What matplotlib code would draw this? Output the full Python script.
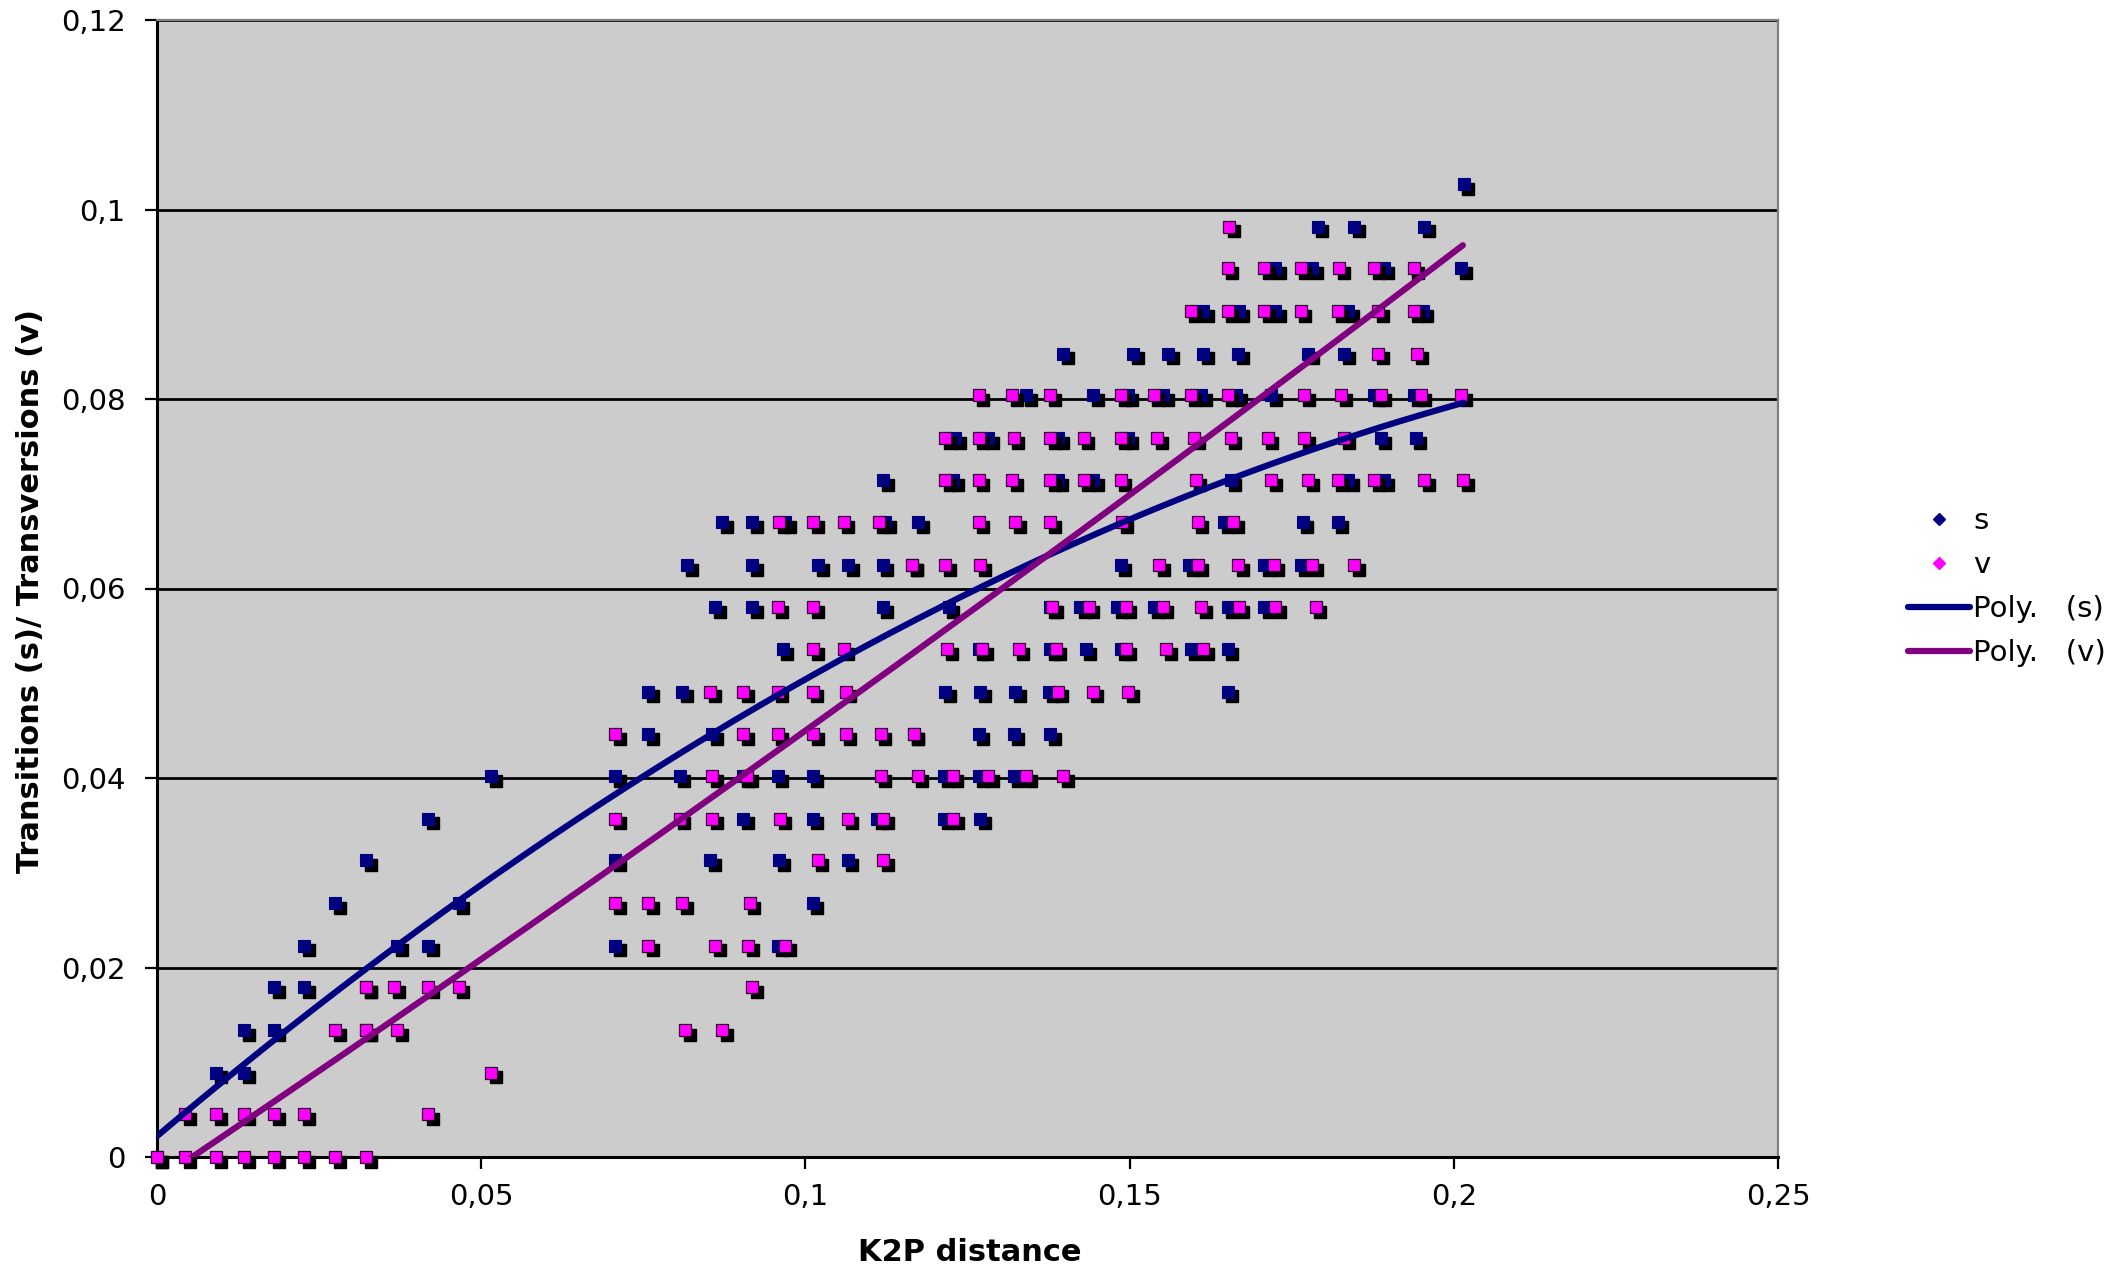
import matplotlib
matplotlib.use("Agg")
import matplotlib.pyplot as plt
import matplotlib.transforms as mtransforms
from matplotlib.lines import Line2D
import numpy as np

# Transitions (s): x = K2P distance, y = proportion
s_x = [0.0,
       0.0091, 0.0134,
       0.0134, 0.0181, 0.0323,
       0.0181, 0.0227, 0.0323,
       0.0227, 0.0370, 0.0418, 0.0707, 0.0957,
       0.0275, 0.0465, 0.1011,
       0.0323, 0.0707, 0.0853, 0.0960, 0.1065,
       0.0418, 0.0904, 0.1011, 0.1111, 0.1213, 0.1270,
       0.0515, 0.0707, 0.0806, 0.0904, 0.0957, 0.1011, 0.1213, 0.1267, 0.1321,
       0.0758, 0.0856, 0.1167, 0.1267, 0.1321, 0.1378,
       0.0758, 0.0810, 0.1216, 0.1270, 0.1324, 0.1375, 0.1651,
       0.0965, 0.1267, 0.1378, 0.1432, 0.1486, 0.1594, 0.1651,
       0.0861, 0.0918, 0.1119, 0.1221, 0.1378, 0.1424, 0.1481, 0.1537, 0.1651, 0.1707,
       0.0818, 0.0918, 0.1020, 0.1066, 0.1119, 0.1165, 0.1486, 0.1591, 0.1707, 0.1764,
       0.0872, 0.0918, 0.0969, 0.1123, 0.1174, 0.1645, 0.1767, 0.1821,
       0.1120, 0.1228, 0.1389, 0.1444, 0.1656, 0.1837, 0.1892,
       0.1231, 0.1282, 0.1390, 0.1497, 0.1887, 0.1941,
       0.1340, 0.1444, 0.1497, 0.1552, 0.1610, 0.1664, 0.1718, 0.1877, 0.1938,
       0.1398, 0.1505, 0.1559, 0.1613, 0.1667, 0.1775, 0.1831,
       0.1613, 0.1668, 0.1725, 0.1837, 0.1952,
       0.1725, 0.1782, 0.1892, 0.2011,
       0.1790, 0.1846, 0.1954,
       0.2015]
s_y = ([0.0]
       + [0.0089] * 2
       + [0.0134] * 3
       + [0.0179] * 3
       + [0.0223] * 5
       + [0.0268] * 3
       + [0.0313] * 5
       + [0.0357] * 6
       + [0.0402] * 9
       + [0.0446] * 6
       + [0.0491] * 7
       + [0.0536] * 7
       + [0.0580] * 10
       + [0.0625] * 10
       + [0.0670] * 8
       + [0.0714] * 7
       + [0.0759] * 6
       + [0.0804] * 9
       + [0.0848] * 7
       + [0.0893] * 5
       + [0.0938] * 4
       + [0.0982] * 3
       + [0.1027] * 1)

# Transversions (v)
v_x = [0.0, 0.0043, 0.0091, 0.0134, 0.0181, 0.0227, 0.0275, 0.0323,
       0.0043, 0.0091, 0.0134, 0.0181, 0.0227, 0.0418,
       0.0515,
       0.0275, 0.0323, 0.0370, 0.0815, 0.0872,
       0.0323, 0.0366, 0.0418, 0.0465, 0.0918,
       0.0758, 0.0861, 0.0912, 0.0969,
       0.0707, 0.0758, 0.0810, 0.0914,
       0.1019, 0.1120,
       0.0707, 0.0806, 0.0856, 0.0961, 0.1065, 0.1120, 0.1228,
       0.0856, 0.0910, 0.1116, 0.1173, 0.1227, 0.1282, 0.1340, 0.1397,
       0.0707, 0.0904, 0.0957, 0.1012, 0.1062, 0.1116, 0.1167,
       0.0853, 0.0904, 0.0957, 0.1011, 0.1062, 0.1389, 0.1443, 0.1498,
       0.1012, 0.1059, 0.1219, 0.1273, 0.1329, 0.1386, 0.1494, 0.1556, 0.1613,
       0.0957, 0.1012, 0.1381, 0.1437, 0.1494, 0.1551, 0.1610, 0.1668, 0.1725, 0.1787,
       0.1165, 0.1216, 0.1270, 0.1545, 0.1605, 0.1667, 0.1722, 0.1782, 0.1846,
       0.0960, 0.1012, 0.1059, 0.1113, 0.1267, 0.1324, 0.1378, 0.1489, 0.1605, 0.1660,
       0.1216, 0.1267, 0.1319, 0.1378, 0.1429, 0.1486, 0.1602, 0.1718, 0.1775,
       0.1821, 0.1877, 0.1954, 0.2014,
       0.1216, 0.1267, 0.1321, 0.1378, 0.1429, 0.1486, 0.1543, 0.1599, 0.1656,
       0.1713, 0.1769, 0.1831,
       0.1267, 0.1319, 0.1378, 0.1486, 0.1537, 0.1594, 0.1651, 0.1769, 0.1826,
       0.1887, 0.1949, 0.2011,
       0.1883, 0.1944,
       0.1594, 0.1651, 0.1707, 0.1764, 0.1821, 0.1883, 0.1938,
       0.1651, 0.1707, 0.1764, 0.1823, 0.1877, 0.1938,
       0.1653]
v_y = ([0.0] * 8
       + [0.0045] * 6
       + [0.0089] * 1
       + [0.0134] * 5
       + [0.0179] * 5
       + [0.0223] * 4
       + [0.0268] * 4
       + [0.0313] * 2
       + [0.0357] * 7
       + [0.0402] * 8
       + [0.0446] * 7
       + [0.0491] * 8
       + [0.0536] * 9
       + [0.0580] * 10
       + [0.0625] * 9
       + [0.0670] * 10
       + [0.0714] * 13
       + [0.0759] * 12
       + [0.0804] * 12
       + [0.0848] * 2
       + [0.0893] * 7
       + [0.0938] * 6
       + [0.0982] * 1)

# trendlijnen (Poly. graad 2) zoals: c2, c1, c0
s_poly = [-0.966, 0.5788, 0.0022]
v_poly = [0.15, 0.46, -0.0025]

x_ticks = [0, 0.05, 0.1, 0.15, 0.2, 0.25]
y_ticks = [0, 0.02, 0.04, 0.06, 0.08, 0.1, 0.12]

NAVY = "#000080"
MAGENTA = "#FF00FF"
PURPLE = "#800080"

fig = plt.figure(figsize=(21.25, 12.73), dpi=100)
ax = fig.add_axes([157 / 2125, 1 - 1157 / 1273, 1621 / 2125, 1137 / 1273])
ax.set_facecolor("#CCCCCC")

# schatten van de markers
shadow = mtransforms.offset_copy(ax.transData, fig=fig, x=3.4, y=-3.4, units="points")
ms = 8.5

ax.plot(s_x, s_y, "s", ms=ms, color="black", mec="black", transform=shadow,
        zorder=3, clip_on=False)
ax.plot(s_x, s_y, "s", ms=ms, color=NAVY, mec=NAVY, mew=0.8, zorder=4,
        clip_on=False)
ax.plot(v_x, v_y, "s", ms=ms, color="black", mec="black", transform=shadow,
        zorder=5, clip_on=False)
ax.plot(v_x, v_y, "s", ms=ms, color=MAGENTA, mec="#300030", mew=0.9, zorder=6,
        clip_on=False)

for xs, coef, col in [(s_x, s_poly, NAVY), (v_x, v_poly, PURPLE)]:
    fx = np.linspace(min(xs), max(xs), 300)
    ax.plot(fx, np.polyval(coef, fx), color=col, lw=4.5,
            solid_capstyle="round", zorder=7)

ax.set_xlim(0, 0.25)
ax.set_ylim(0, 0.12)
ax.set_xticks(x_ticks)
ax.set_yticks(y_ticks)
ax.set_xticklabels([("%g" % t).replace(".", ",") for t in x_ticks])
ax.set_yticklabels([("%g" % t).replace(".", ",") for t in y_ticks])
ax.tick_params(axis="x", direction="out", length=8.5, width=1.6, pad=10,
               labelsize=21)
ax.tick_params(axis="y", direction="out", length=8.5, width=1.6, pad=14,
               labelsize=21)

ax.grid(axis="y", color="black", lw=2.0, zorder=1)
ax.set_axisbelow(True)

for side in ["left", "bottom"]:
    ax.spines[side].set_color("black")
    ax.spines[side].set_linewidth(2.2)
for side in ["top", "right"]:
    ax.spines[side].set_color("#808080")
    ax.spines[side].set_linewidth(1.6)

ax.set_xlabel("K2P distance", fontsize=22, fontweight="bold", va="center")
ax.set_ylabel("Transitions (s)/ Transversions (v)", fontsize=22,
              fontweight="bold", va="center")
ax.xaxis.set_label_coords(0.5016, -0.0836)
ax.yaxis.set_label_coords(-0.078, 0.498)

handles = [
    Line2D([], [], ls="none", marker="D", ms=6, color=NAVY),
    Line2D([], [], ls="none", marker="D", ms=6, color=MAGENTA),
    Line2D([], [], color=NAVY, lw=4.5, solid_capstyle="round"),
    Line2D([], [], color=PURPLE, lw=4.5, solid_capstyle="round"),
]
labels = ["s", "v", "Poly.   (s)", "Poly.   (v)"]
fig.legend(handles, labels, loc="center left",
           bbox_to_anchor=(1893 / 2125, 1 - 587 / 1273),
           bbox_transform=fig.transFigure, frameon=False, fontsize=21,
           borderpad=0, handlelength=2.15, handletextpad=0.1,
           labelspacing=0.55)

fig.savefig("out.png", dpi=100)
